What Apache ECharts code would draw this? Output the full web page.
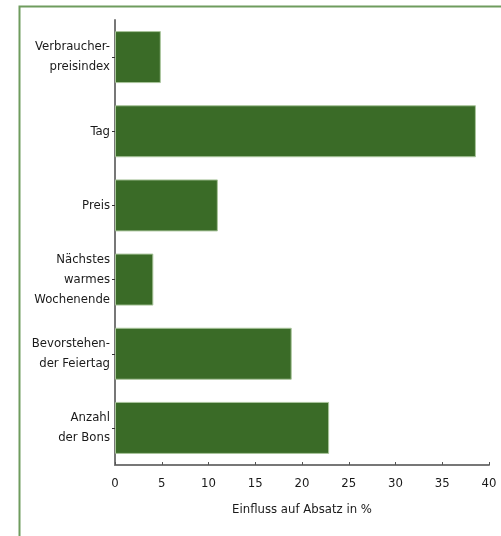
<!DOCTYPE html>
<html>
<head>
<meta charset="utf-8">
<script src="https://cdn.jsdelivr.net/npm/echarts@6/dist/echarts.min.js"></script>
<style>
  html, body { margin: 0; padding: 0; background: #ffffff; }
  #chart { width: 501px; height: 536px; }
</style>
</head>
<body>
<div id="chart"></div>
<script>
// Einflussfaktoren auf den Absatz (in %)
const categories = [
  'Verbraucher-\npreisindex',
  'Tag',
  'Preis',
  'Nächstes\nwarmes\nWochenende',
  'Bevorstehen-\nder Feiertag',
  'Anzahl\nder Bons'
];
const values = [4.9, 38.6, 11.0, 4.1, 18.9, 22.9];
const xTicks = [0, 5, 10, 15, 20, 25, 30, 35, 40];
const axisTitle = 'Einfluss auf Absatz in %';

const FONT = '"Liberation Sans Narrow", "DejaVu Sans Condensed", "Open Sans", sans-serif';

const chart = echarts.init(document.getElementById('chart'), null, { renderer: 'canvas' });

chart.setOption({
  animation: false,
  backgroundColor: '#ffffff',
  graphic: [{
    type: 'rect',
    shape: { x: 19.5, y: 6.5, width: 600, height: 600 },
    style: { fill: 'none', stroke: '#6f9c5e', lineWidth: 2 },
    silent: true,
    z: -1
  }],
  grid: { left: 115, right: 12, top: 20, bottom: 71, containLabel: false },
  xAxis: {
    type: 'value',
    min: xTicks[0],
    max: xTicks[xTicks.length - 1],
    interval: 5,
    name: axisTitle,
    nameLocation: 'middle',
    nameGap: 38,
    nameTextStyle: { fontFamily: FONT, fontSize: 13, color: '#1a1a1a' },
    axisLine: { show: true, lineStyle: { color: '#777', width: 2 } },
    axisTick: { show: true, length: 3, inside: true, lineStyle: { color: '#555', width: 1 } },
    axisLabel: { fontFamily: FONT, fontSize: 13, color: '#1a1a1a', margin: 12 },
    splitLine: { show: false }
  },
  yAxis: {
    type: 'category',
    data: categories,
    inverse: true,
    axisLine: { show: true, lineStyle: { color: '#777', width: 2 } },
    axisTick: { show: true, alignWithLabel: true, length: 3, lineStyle: { color: '#333', width: 1 } },
    axisLabel: {
      fontFamily: FONT, fontSize: 13, color: '#1a1a1a', margin: 5,
      lineHeight: 20, align: 'right'
    }
  },
  series: [{
    type: 'bar',
    data: values,
    barWidth: 52,
    itemStyle: { color: '#3a6b27', borderColor: '#a9c49b', borderWidth: 1 },
    silent: true
  }]
});
</script>
</body>
</html>
